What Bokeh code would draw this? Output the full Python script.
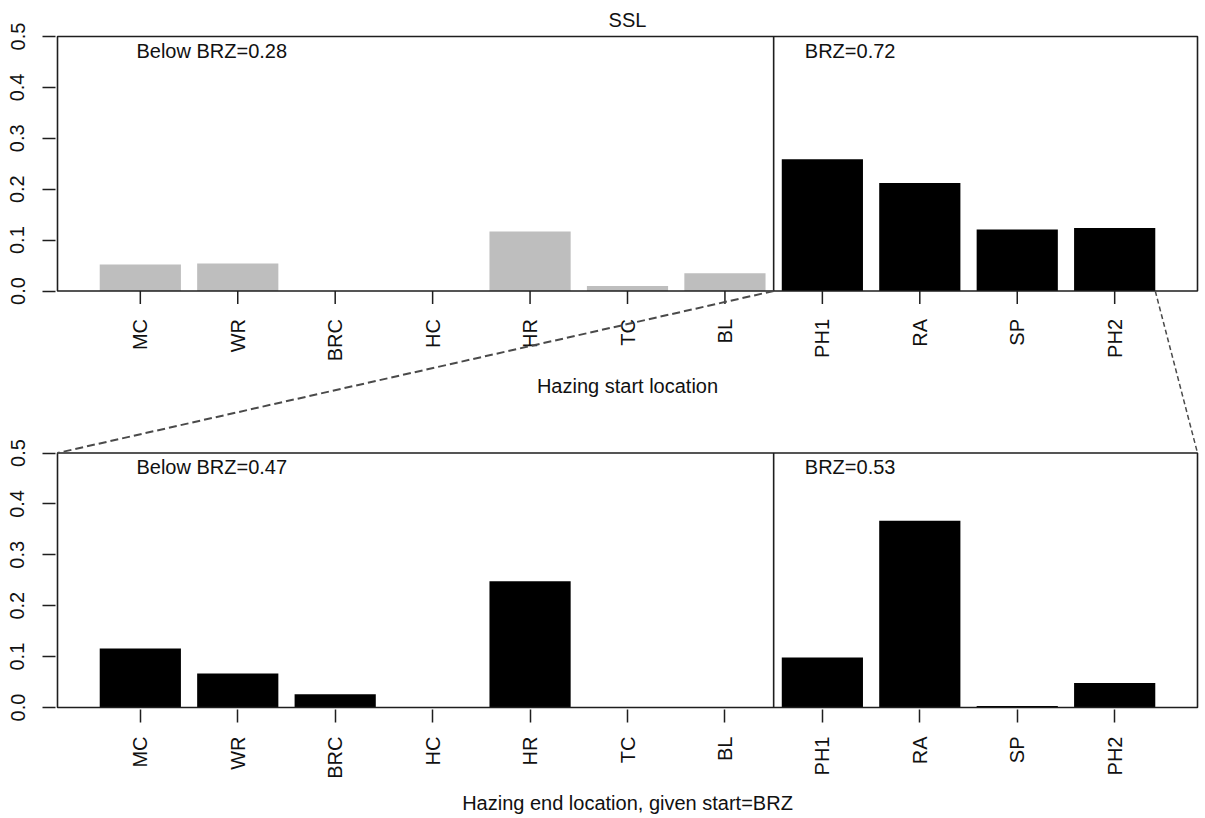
import math
from bokeh.plotting import figure
from bokeh.models import Range1d, FixedTicker, CustomJSTickFormatter, ColumnDataSource
from bokeh.core.properties import value
from bokeh.embed import file_html
from bokeh.resources import INLINE

# ---------------- data ----------------
categories = ["MC", "WR", "BRC", "HC", "HR", "TC", "BL", "PH1", "RA", "SP", "PH2"]
zone = ["below", "below", "below", "below", "below", "below", "below",
        "brz", "brz", "brz", "brz"]
start_prop = [0.052, 0.054, 0.0, 0.0, 0.117, 0.010, 0.035, 0.259, 0.212, 0.121, 0.124]
end_prop = [0.116, 0.067, 0.026, 0.0, 0.248, 0.0, 0.0, 0.098, 0.367, 0.003, 0.048]
y_ticks = [0.0, 0.1, 0.2, 0.3, 0.4, 0.5]
top_notes = ["Below BRZ=0.28", "BRZ=0.72"]
bottom_notes = ["Below BRZ=0.47", "BRZ=0.53"]
title_text = "SSL"
top_xlabel = "Hazing start location"
bottom_xlabel = "Hazing end location, given start=BRZ"

# ---------------- layout constants (pixels) ----------------
W, H = 1205, 818
FRAME_L, FRAME_R, FRAME_T, FRAME_B = 55, 1199, 34, 709
BOX_L, BOX_R = 57, 1197
TOP_ZERO_PX = 290.5
BOT_ZERO_PX = 707
PANEL_PX = 254.5
YMAX = 0.5
U = YMAX / PANEL_PX            # data units per pixel (vertical)

n = len(categories)
idx = list(range(n))
BAR_W = 1 / 1.2
X_LO, X_HI = -0.85, (n - 1) + 0.85
XS = (BOX_R - BOX_L) / (X_HI - X_LO)   # pixels per x unit

x_start = X_LO - (BOX_L - FRAME_L) / XS
x_end = X_HI + (FRAME_R - BOX_R) / XS

frame_h = FRAME_B - FRAME_T
bot_start = -(FRAME_B - BOT_ZERO_PX) * U
bot_end = bot_start + frame_h * U
top_start = -(FRAME_B - TOP_ZERO_PX) * U
top_end = top_start + frame_h * U
OFF = bot_start - top_start     # top-range value -> bottom-range value

FONT = "Liberation Sans"
TXT = "#111111"

p = figure(width=W, height=H, x_range=Range1d(x_start, x_end),
           y_range=Range1d(bot_start, bot_end),
           output_backend="svg", toolbar_location=None,
           min_border_left=FRAME_L, min_border_right=W - FRAME_R,
           min_border_top=FRAME_T, min_border_bottom=H - FRAME_B,
           title=title_text)
p.extra_y_ranges = {"top": Range1d(top_start, top_end)}
p.background_fill_color = "white"
p.border_fill_color = "white"
p.outline_line_color = None
p.xgrid.visible = False
p.ygrid.visible = False

p.title.align = "center"
p.title.text_font = FONT
p.title.text_font_size = "20px"
p.title.text_font_style = "normal"
p.title.text_color = TXT
p.title.standoff = 8

# ---- y axis (shared, ticks for both panels) ----
yax = p.yaxis[0]
yax.ticker = FixedTicker(ticks=y_ticks + [t + OFF for t in y_ticks])
yax.formatter = CustomJSTickFormatter(args=dict(off=OFF), code="""
    const v = tick > off - 0.2 ? tick - off : tick;
    return Math.abs(v).toFixed(1);
""")
yax.axis_line_color = None
yax.major_tick_out = 13
yax.major_tick_in = 0
yax.minor_tick_out = 0
yax.minor_tick_in = 0
yax.major_tick_line_width = 1.5
yax.major_tick_line_color = "#1e1e1e"
yax.major_label_orientation = "parallel"
yax.major_label_standoff = 18
yax.major_label_text_font = FONT
yax.major_label_text_font_size = "20px"
yax.major_label_text_color = TXT

# ---- x axis (bottom panel) ----
xax = p.xaxis[0]
xax.ticker = FixedTicker(ticks=idx)
xax.major_label_overrides = {i: c for i, c in enumerate(categories)}
xax.major_label_orientation = math.pi / 2
xax.axis_line_color = None
xax.major_tick_out = 13
xax.major_tick_in = 0
xax.minor_tick_out = 0
xax.minor_tick_in = 0
xax.major_tick_line_width = 1.5
xax.major_tick_line_color = "#1e1e1e"
xax.major_label_standoff = 14
xax.major_label_text_font = FONT
xax.major_label_text_font_size = "20px"
xax.major_label_text_color = TXT
xax.axis_label = bottom_xlabel
xax.axis_label_text_font = FONT
xax.axis_label_text_font_size = "20px"
xax.axis_label_text_font_style = "normal"
xax.axis_label_text_color = TXT
xax.axis_label_standoff = 10

color_map = {"below": "#BEBEBE", "brz": "#000000"}

# ---- top panel ----
src_top = ColumnDataSource(dict(x=idx, top=start_prop,
                                color=[color_map[z] for z in zone]))
p.vbar(x="x", top="top", bottom=0, width=BAR_W, fill_color="color",
       line_color=None, source=src_top, y_range_name="top")
p.quad(left=[X_LO], right=[X_HI], bottom=[0], top=[YMAX], fill_color=None,
       line_color="#1e1e1e", line_width=1.6, y_range_name="top")
n_below = zone.count("below")
p.segment(x0=[n_below - 0.5], x1=[n_below - 0.5], y0=[0], y1=[YMAX],
          line_color="#1e1e1e", line_width=1.6, y_range_name="top")
p.segment(x0=idx, x1=idx, y0=[0] * n, y1=[-13 * U] * n,
          line_color="#1e1e1e", line_width=1.5, y_range_name="top")
p.text(x=idx, y=[-28 * U] * n, text=categories, angle=math.pi / 2,
       text_align="right", text_baseline="middle", text_font=value(FONT),
       text_font_size="20px", text_color=TXT, y_range_name="top")
p.text(x=[(X_LO + X_HI) / 2], y=[-95 * U], text=[top_xlabel],
       text_align="center", text_baseline="middle", text_font=value(FONT),
       text_font_size="20px", text_color=TXT, y_range_name="top")
note_x = [-0.04, n_below - 0.18]
p.text(x=note_x, y=[YMAX - 14 * U] * 2, text=top_notes, text_align="left",
       text_baseline="middle", text_font=value(FONT), text_font_size="20px",
       text_color=TXT, y_range_name="top")

# ---- bottom panel ----
p.vbar(x=idx, top=end_prop, bottom=0, width=BAR_W, fill_color="#000000",
       line_color=None)
p.quad(left=[X_LO], right=[X_HI], bottom=[0], top=[YMAX], fill_color=None,
       line_color="#1e1e1e", line_width=1.6)
p.segment(x0=[n_below - 0.5], x1=[n_below - 0.5], y0=[0], y1=[YMAX],
          line_color="#1e1e1e", line_width=1.6)
p.text(x=note_x, y=[YMAX - 13.5 * U] * 2, text=bottom_notes, text_align="left",
       text_baseline="middle", text_font=value(FONT), text_font_size="20px",
       text_color=TXT)

# ---- zoom connector lines (top-panel points converted to bottom range) ----
p.line(x=[n_below - 0.5, X_LO], y=[0 + OFF, YMAX], line_color="#4a4a4a",
       line_width=2, line_dash="8 4")
p.line(x=[(n - 1) + BAR_W / 2, X_HI], y=[0 + OFF, YMAX], line_color="#4a4a4a",
       line_width=1.5, line_dash="5 3")

open("out.html", "w").write(file_html(p, INLINE))
